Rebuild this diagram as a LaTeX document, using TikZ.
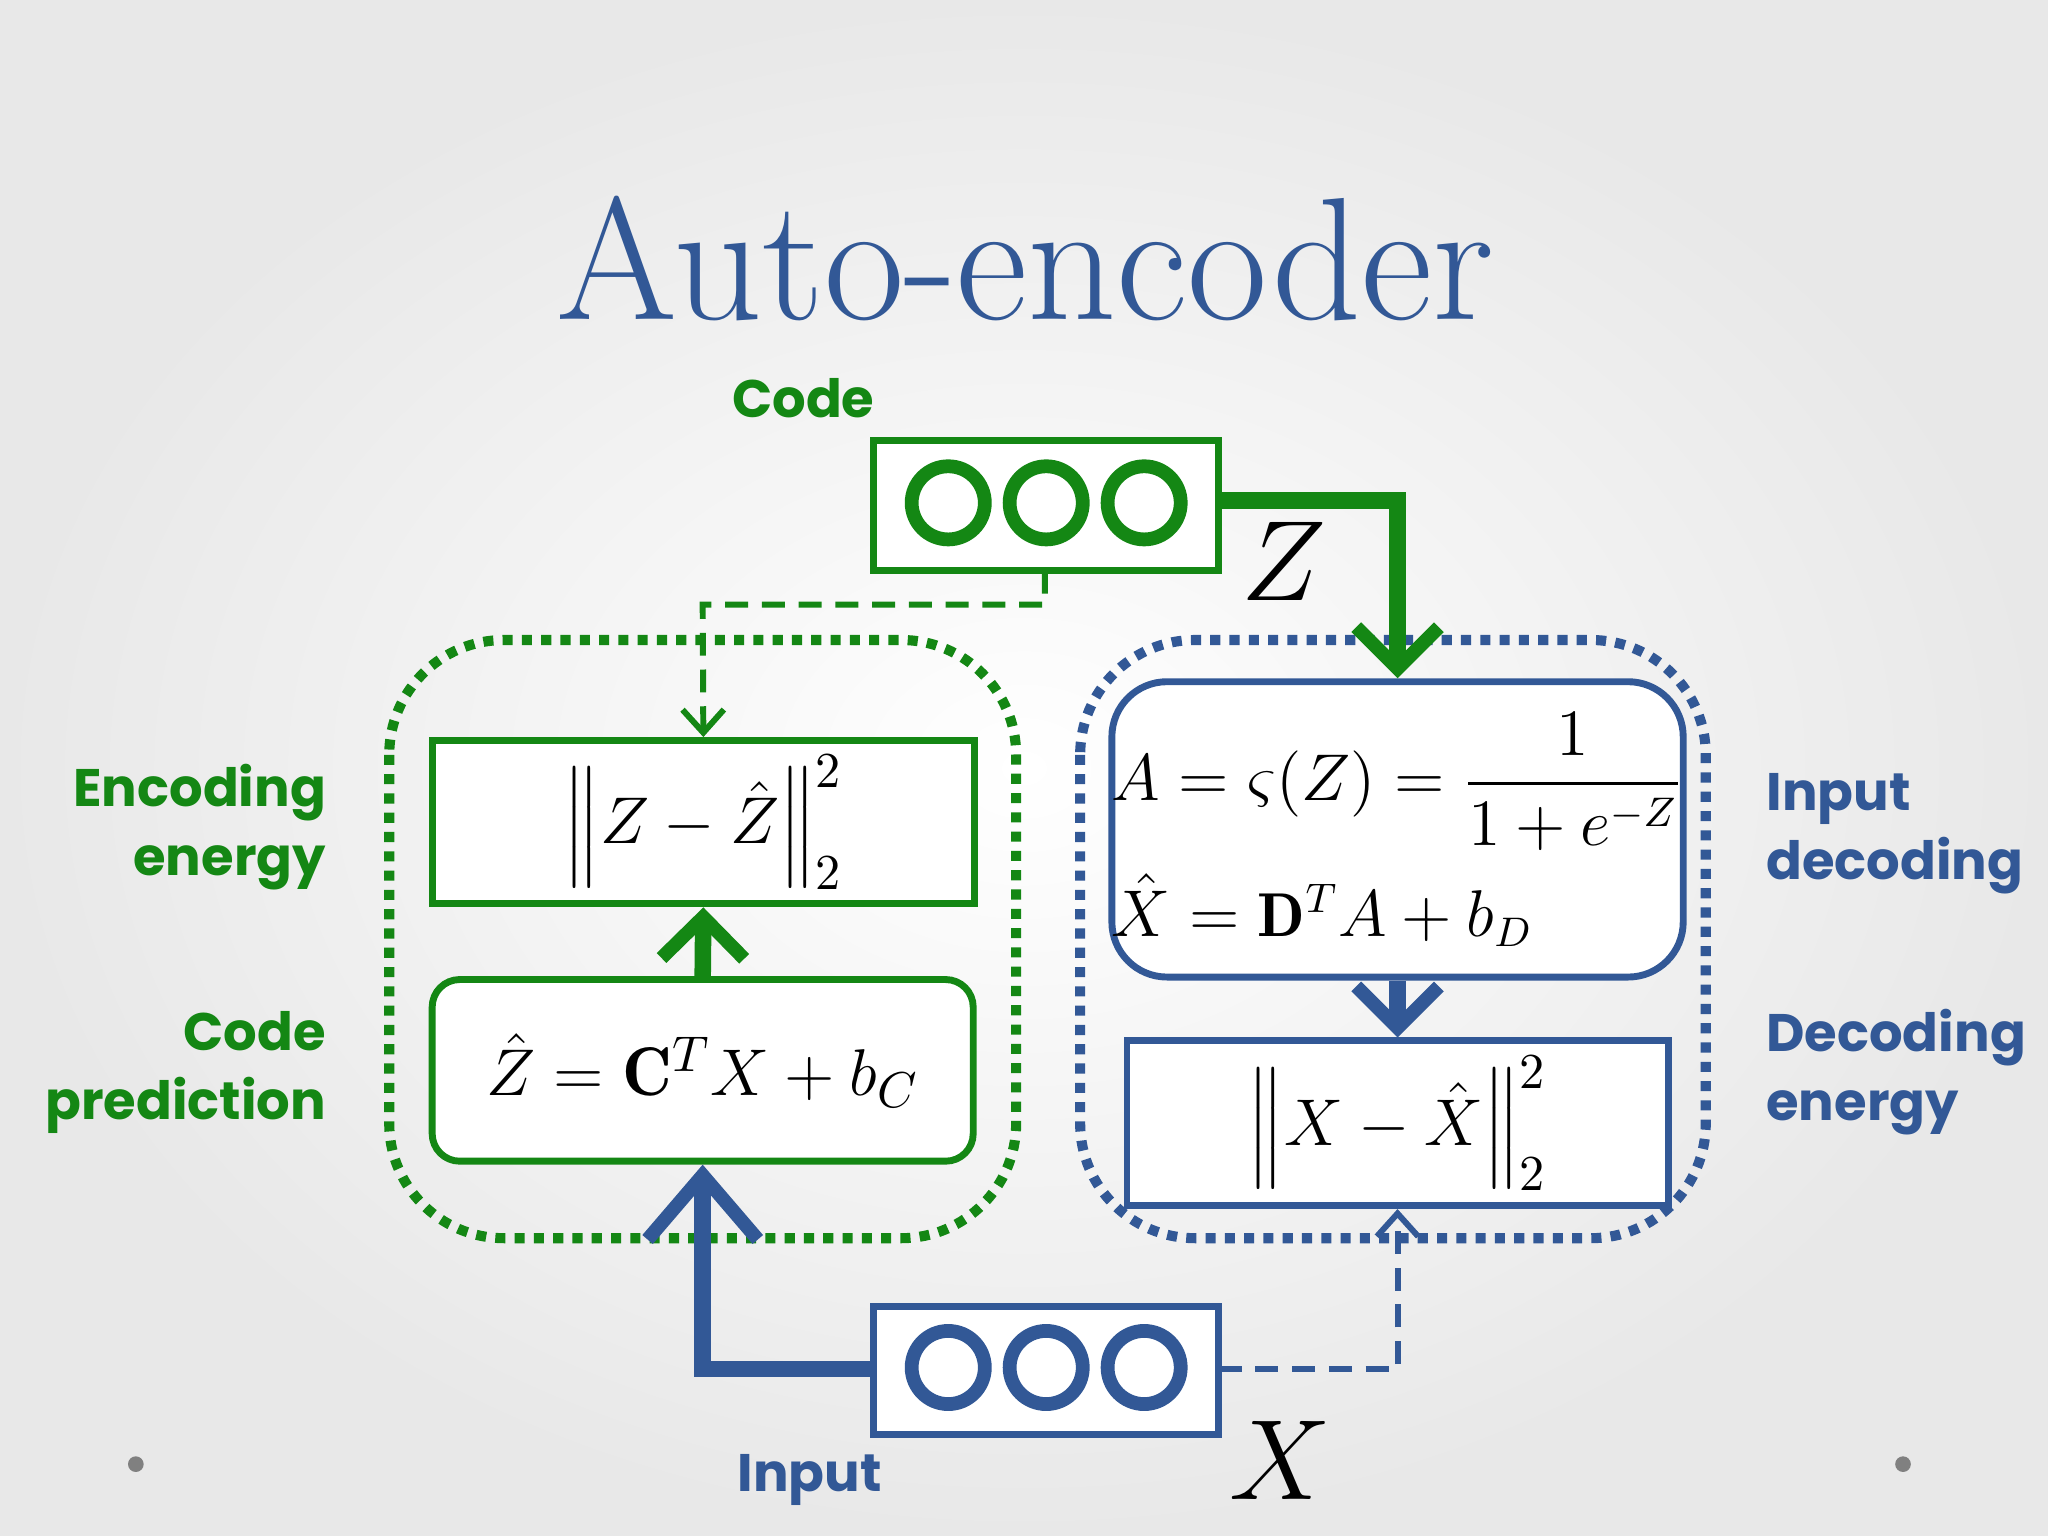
\documentclass[tikz,border=0pt]{standalone}
\usepackage{fontspec}
\usepackage{amsmath,bm}
\newfontfamily\sansb{Poppins}
\usetikzlibrary{arrows.meta,positioning}
\definecolor{gr}{RGB}{20,135,20}
\definecolor{bl}{RGB}{50,88,150}
\begin{document}
\begin{tikzpicture}[x=0.01cm,y=-0.01cm,
  box/.style={draw,line width=1.5pt,fill=white,inner sep=0pt},
  lab/.style={font=\sansb\fontsize{11.5}{15}\selectfont\bfseries,align=left},
  mth/.style={font=\fontsize{15}{18}\selectfont},
  thick arrow/.style={line width=3.6pt,-{Straight Barb[length=9pt,width=18pt,line width=3pt]}},
  dashed arrow/.style={line width=1.3pt,dash pattern=on 5pt off 3pt,-{Straight Barb[length=5pt,width=9pt]}}]
\shade[inner color=white,outer color=gray!18] (0,0) rectangle (1568,1176);
\useasboundingbox (0,0) rectangle (1568,1176);
\node[text=bl,font=\fontsize{38}{38}\selectfont] (title) at (785,198) {Auto-encoder};
\node[lab,text=gr] (lcode) at (615,305) {Code};
\node[lab,text=bl] (linput) at (620,1133) {Input};
\node[lab,text=gr,align=right,anchor=east] (lenc) at (262,633) {Encoding\\energy};
\node[lab,text=gr,align=right,anchor=east] (lpred) at (262,821) {Code\\prediction};
\node[lab,text=bl,anchor=west] (ldec) at (1340,638) {Input\\decoding};
\node[lab,text=bl,anchor=west] (lden) at (1340,821) {Decoding\\energy};
% dotted groups
\draw[gr,line width=2.2pt,dotted,rounded corners=25] (298,490) rectangle (778,948);
\draw[bl,line width=2.2pt,dotted,rounded corners=25] (827,490) rectangle (1306,948);
% code box
\node[box,draw=gr,minimum width=2.64cm,minimum height=1cm] (code) at (801,387) {};
\foreach \x in {726,801,876}{\draw[gr,line width=3pt] (\x,385) circle (28);}
% input box
\node[box,draw=bl,minimum width=2.64cm,minimum height=0.98cm] (input) at (801,1049) {};
\foreach \x in {726,801,876}{\draw[bl,line width=3pt] (\x,1047) circle (28);}
\coordinate (codeR) at (933,383); \coordinate (codeB) at (800,437);
\coordinate (inL) at (669,1048); \coordinate (inR) at (933,1048);
\node[font=\fontsize{28}{30}\selectfont] (Z) at (983,430) {$Z$};
\node[font=\fontsize{28}{30}\selectfont] (X) at (980,1118) {$X$};
% green boxes
\node[box,draw=gr,minimum width=4.15cm,minimum height=1.25cm,mth] (enc) at (538.5,629.5) {$\left\|Z-\hat Z\right\|_2^2$};
\node[box,draw=gr,minimum width=4.14cm,minimum height=1.39cm,rounded corners=6,mth] (pred) at (538,819.5) {$\hat Z=\mathbf{C}^T X+b_C$};
% blue boxes
\node[box,draw=bl,minimum width=4.14cm,minimum height=2.26cm,rounded corners=12,font=\fontsize{13.5}{16}\selectfont,align=left] (dec) at (1070,635) {$A=\varsigma(Z)=\dfrac{1}{1+e^{-Z}}$\\[4pt]$\hat X=\mathbf{D}^T A+b_D$};
\node[box,draw=bl,minimum width=4.14cm,minimum height=1.26cm,mth] (den) at (1070,860) {$\left\|X-\hat X\right\|_2^2$};
% arrows
\draw[gr,thick arrow] (codeR) -- (1070,383) -- (dec.north);
\draw[gr,dashed arrow] (codeB) -- (800,463) -- (538,463) -- (enc.north);
\draw[gr,thick arrow] (pred.north) -- (enc.south);
\draw[bl,thick arrow,-{Straight Barb[length=14pt,width=24pt,line width=3pt]}] (inL) -- (538,1048) -- (pred.south);
\draw[bl,dashed arrow] (inR) -- (1070,1048) -- (den.south);
\draw[bl,thick arrow] (dec.south) -- (den.north);
\fill[gray] (104,1121) circle (6) (1457,1121) circle (6);
\end{tikzpicture}
\end{document}
